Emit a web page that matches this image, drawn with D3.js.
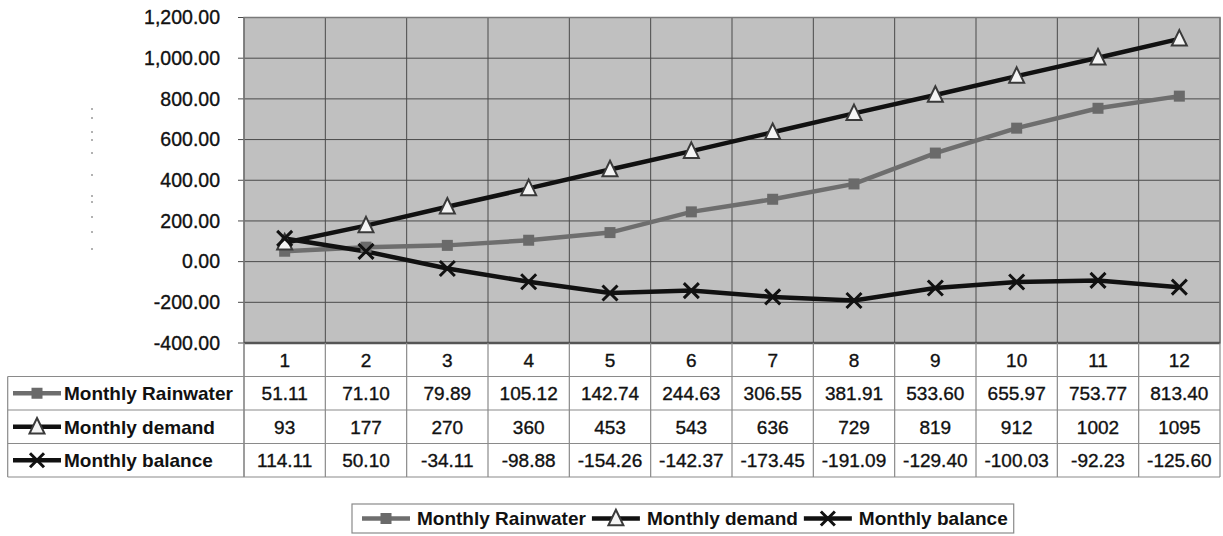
<!DOCTYPE html>
<html><head><meta charset="utf-8">
<script src="https://cdn.jsdelivr.net/npm/d3@7"></script>
<style>body{margin:0;background:#fff}svg{display:block;font-family:"Liberation Sans",Arial,sans-serif}</style>
</head><body><svg id="c" width="1223" height="536"></svg>
<script>
const categories = ["1","2","3","4","5","6","7","8","9","10","11","12"];
const rainwater = [51.11,71.10,79.89,105.12,142.74,244.63,306.55,381.91,533.60,655.97,753.77,813.40];
const demand = [93,177,270,360,453,543,636,729,819,912,1002,1095];
const balance = [114.11,50.10,-34.11,-98.88,-154.26,-142.37,-173.45,-191.09,-129.40,-100.03,-92.23,-125.60];
const demandLabels = ["93","177","270","360","453","543","636","729","819","912","1002","1095"];
const yTicks = [-400,-200,0,200,400,600,800,1000,1200];
const seriesNames = ["Monthly Rainwater","Monthly demand","Monthly balance"];

const svg = d3.select("#c");
const L = 244, R = 1220, T = 17.5, B = 343;
const x = d3.scaleBand().domain(categories).range([L, R]);
const y = d3.scaleLinear().domain([-400, 1200]).range([B, T]);

svg.append("rect").attr("x", L).attr("y", T).attr("width", R - L).attr("height", B - T).attr("fill", "#c0c0c0");

svg.append("g").selectAll("line").data(yTicks).join("line")
  .attr("x1", L - 6).attr("x2", R).attr("y1", d => y(d)).attr("y2", d => y(d))
  .attr("stroke", "#4a4a4a").attr("stroke-width", 1);
const tableTop = B, rowH = 33.5;
const tableBottom = B + rowH * 4;
const seps = categories.map(c => x(c)).concat([R]);
svg.append("g").selectAll("line").data(seps).join("line")
  .attr("x1", d => d).attr("x2", d => d).attr("y1", T).attr("y2", B)
  .attr("stroke", "#4a4a4a").attr("stroke-width", 1);
svg.append("rect").attr("x", L).attr("y", T).attr("width", R - L).attr("height", B - T)
  .attr("fill", "none").attr("stroke", "#7a7a7a").attr("stroke-width", 1.5);
svg.append("line").attr("x1", L).attr("x2", R).attr("y1", B).attr("y2", B).attr("stroke", "#555").attr("stroke-width", 2.5);

const fmt = v => d3.format(",.2f")(v).replace("\u2212", "-");
svg.append("g").selectAll("text").data(yTicks).join("text")
  .attr("x", 220).attr("y", d => y(d)).attr("dy", "0.35em").attr("text-anchor", "end")
  .attr("font-size", 19.5).attr("fill", "#111").attr("stroke", "#111").attr("stroke-width", 0.35).text(d => fmt(d));

svg.append("g").selectAll("circle").data([109,118,132,140,153,175,196,202,217,232,249]).join("circle")
  .attr("cx", 92).attr("cy", d => d).attr("r", 1).attr("fill", "#999");

const lineGen = d3.line().x((d, i) => x(categories[i]) + x.bandwidth() / 2).y(d => y(d));
svg.append("path").datum(rainwater).attr("d", lineGen).attr("fill", "none").attr("stroke", "#6e6e6e").attr("stroke-width", 4.5);
svg.append("path").datum(demand).attr("d", lineGen).attr("fill", "none").attr("stroke", "#111").attr("stroke-width", 4.5);
svg.append("path").datum(balance).attr("d", lineGen).attr("fill", "none").attr("stroke", "#111").attr("stroke-width", 4.5);

function square(g, cx, cy, s) {
  g.append("rect").attr("x", cx - s / 2).attr("y", cy - s / 2).attr("width", s).attr("height", s).attr("fill", "#6a6a6a");
}
function tri(g, cx, cy, s) {
  const h = s * 0.9;
  g.append("path").attr("d", `M${cx},${cy - h / 2 - 2}L${cx + s / 2},${cy + h / 2}L${cx - s / 2},${cy + h / 2}Z`)
    .attr("fill", "#f4f4f4").attr("stroke", "#3a3a3a").attr("stroke-width", 2);
}
function cross(g, cx, cy, s) {
  const h = s / 2;
  g.append("path").attr("d", `M${cx - h},${cy - h}L${cx + h},${cy + h}M${cx - h},${cy + h}L${cx + h},${cy - h}`)
    .attr("stroke", "#111").attr("stroke-width", 3);
}
const gm = svg.append("g");
rainwater.forEach((v, i) => square(gm, x(categories[i]) + x.bandwidth() / 2, y(v), 11));
demand.forEach((v, i) => tri(gm, x(categories[i]) + x.bandwidth() / 2, y(v), 15));
balance.forEach((v, i) => cross(gm, x(categories[i]) + x.bandwidth() / 2, y(v), 15));

const TL = 7.7;
const tg = svg.append("g");
[1, 2, 3, 4].forEach(k => {
  tg.append("line").attr("x1", TL).attr("x2", R).attr("y1", tableTop + rowH * k).attr("y2", tableTop + rowH * k)
    .attr("stroke", "#8a8a8a").attr("stroke-width", 1.2);
});
tg.append("line").attr("x1", TL).attr("x2", TL).attr("y1", tableTop + rowH).attr("y2", tableBottom).attr("stroke", "#8a8a8a").attr("stroke-width", 1.2);
seps.forEach(sx => tg.append("line").attr("x1", sx).attr("x2", sx).attr("y1", B).attr("y2", tableBottom).attr("stroke", "#8a8a8a").attr("stroke-width", 1.2));
tg.append("line").attr("x1", L).attr("x2", L).attr("y1", B).attr("y2", tableBottom).attr("stroke", "#8a8a8a").attr("stroke-width", 1.2);

tg.selectAll("text.cat").data(categories).join("text").attr("class", "cat")
  .attr("x", d => x(d) + x.bandwidth() / 2).attr("y", tableTop + rowH / 2).attr("dy", "0.36em")
  .attr("text-anchor", "middle").attr("font-size", 19).attr("fill", "#111").attr("stroke", "#111").attr("stroke-width", 0.35).text(d => d);

const rows = [
  rainwater.map(v => v.toFixed(2)),
  demandLabels,
  balance.map(v => v.toFixed(2))
];
const markers = [
  (g, cx, cy) => { g.append("line").attr("x1", cx - 24).attr("x2", cx + 24).attr("y1", cy).attr("y2", cy).attr("stroke", "#6e6e6e").attr("stroke-width", 4.5); square(g, cx, cy, 11); },
  (g, cx, cy) => { g.append("line").attr("x1", cx - 24).attr("x2", cx + 24).attr("y1", cy).attr("y2", cy).attr("stroke", "#111").attr("stroke-width", 4.5); tri(g, cx, cy, 15); },
  (g, cx, cy) => { g.append("line").attr("x1", cx - 24).attr("x2", cx + 24).attr("y1", cy).attr("y2", cy).attr("stroke", "#111").attr("stroke-width", 4.5); cross(g, cx, cy, 14); }
];
rows.forEach((r, k) => {
  const cy = tableTop + rowH * (k + 1) + rowH / 2;
  markers[k](tg, 37, cy);
  tg.append("text").attr("x", 64).attr("y", cy).attr("dy", "0.36em").attr("font-size", 19).attr("font-weight", "bold")
    .attr("fill", "#111").text(seriesNames[k]);
  tg.selectAll(null).data(r).join("text")
    .attr("x", (d, i) => x(categories[i]) + x.bandwidth() / 2).attr("y", cy).attr("dy", "0.36em")
    .attr("text-anchor", "middle").attr("font-size", 19).attr("fill", "#111").attr("stroke", "#111").attr("stroke-width", 0.35).text(d => d);
});

const lg = svg.append("g");
const lgTop = 504, lgH = 29;
const lgBox = lg.append("rect").attr("y", lgTop).attr("height", lgH).attr("fill", "#fff").attr("stroke", "#8a8a8a").attr("stroke-width", 1.2);
let cx = 362;
const lcy = lgTop + lgH / 2;
seriesNames.forEach((n, k) => {
  markers[k](lg, cx + 24, lcy);
  const t = lg.append("text").attr("x", cx + 55).attr("y", lcy).attr("dy", "0.36em").attr("font-size", 19)
    .attr("font-weight", "bold").attr("fill", "#111").text(n);
  cx = cx + 55 + t.node().getComputedTextLength() + 6;
});
lgBox.attr("x", 352).attr("width", cx - 352);
</script></body></html>
